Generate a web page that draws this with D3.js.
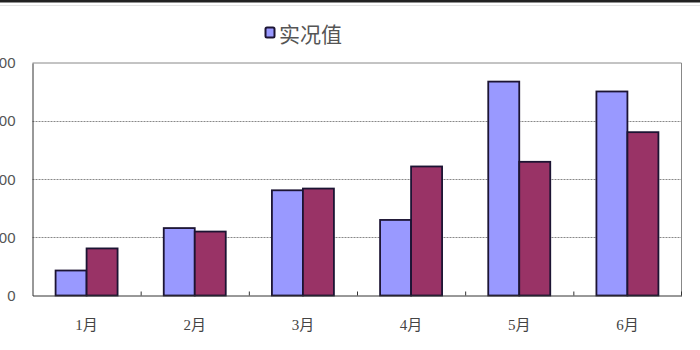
<!DOCTYPE html>
<html><head><meta charset="utf-8">
<script src="https://cdn.jsdelivr.net/npm/d3@7"></script>
<style>html,body{margin:0;padding:0;background:#fff;overflow:hidden}</style>
</head><body>
<svg id="c" width="700" height="350"></svg>
<script>
const categories = ["1月","2月","3月","4月","5月","6月"];
const observed = [43,116,181,130,368,351];
const forecast = [81,110,184,222,230,281];
const legendLabels = ["实况值"];
const yTicks = [0,100,200,300,400];

const svg = d3.select("#c");
const L = 32.5, R = 681.5, T = 63, B = 295.5;
const x = d3.scaleBand().domain(categories).range([L, R]).paddingInner(0).paddingOuter(0);
const inner = d3.scaleBand().domain([0,1]).range([0, 62]);
const y = d3.scaleLinear().domain([0,400]).range([B, T]);

// top border
svg.append("rect").attr("x",0).attr("y",0).attr("width",700).attr("height",2.5).attr("fill","#222");
svg.append("line").attr("x1",0).attr("x2",700).attr("y1",5.5).attr("y2",5.5).attr("stroke","#e4e4e4");

// gridlines
svg.append("g").selectAll("line").data(yTicks.filter(d=>d>0 && d<400)).join("line")
  .attr("x1",L).attr("x2",R).attr("y1",d=>Math.round(y(d))+0.5).attr("y2",d=>Math.round(y(d))+0.5)
  .attr("stroke","#888").attr("stroke-dasharray","2,1").attr("stroke-width",1);

// frame top/right
svg.append("line").attr("x1",L).attr("x2",R).attr("y1",T).attr("y2",T).attr("stroke","#888");
svg.append("line").attr("x1",R).attr("x2",R).attr("y1",T).attr("y2",B).attr("stroke","#888");

// bars
const series = [observed, forecast];
const colors = ["#9999ff","#993366"];
series.forEach((vals,i)=>{
  svg.append("g").selectAll("rect").data(vals).join("rect")
    .attr("x",(d,j)=>x(categories[j]) + (x.bandwidth()-62)/2 + inner(i))
    .attr("y",d=>y(d))
    .attr("width",inner.bandwidth())
    .attr("height",d=>B-y(d))
    .attr("fill",colors[i]).attr("stroke","#1c1433").attr("stroke-width",1.8);
});

// axes
const yAxis = d3.axisLeft(y).tickValues(yTicks).tickSize(0).tickPadding(17);
const gy = svg.append("g").attr("transform",`translate(${L},0)`).call(yAxis);
gy.select(".domain").attr("stroke","#333");
gy.selectAll("text").attr("font-family","Arial, 'Liberation Sans', sans-serif").attr("font-size",15).attr("fill","#555");

const xAxis = d3.axisBottom(x).tickSize(0).tickPadding(24);
const gx = svg.append("g").attr("transform",`translate(0,${B})`).call(xAxis);
gx.select(".domain").attr("stroke","#333");
gx.selectAll("text").attr("font-family","'Liberation Serif', 'Noto Sans CJK SC', serif").attr("font-size",15).attr("fill","#444");
// boundary ticks (inward)
svg.append("g").selectAll("line").data(categories.slice(1).concat(["end"])).join("line")
  .attr("x1",d=> d==="end"? R : x(d)+0.5).attr("x2",d=> d==="end"? R : x(d)+0.5)
  .attr("y1",B).attr("y2",B-4).attr("stroke","#333");

// legend
const lg = svg.append("g").attr("transform","translate(265,27)");
lg.append("rect").attr("x",0.5).attr("y",0.5).attr("width",9).attr("height",10).attr("rx",1.5)
  .attr("fill",colors[0]).attr("stroke","#1c1433").attr("stroke-width",2);
lg.append("text").attr("x",14).attr("y",15).text(legendLabels[0])
  .attr("font-family","'Noto Sans CJK SC', sans-serif").attr("font-size",21).attr("fill","#555");
</script>
</body></html>
